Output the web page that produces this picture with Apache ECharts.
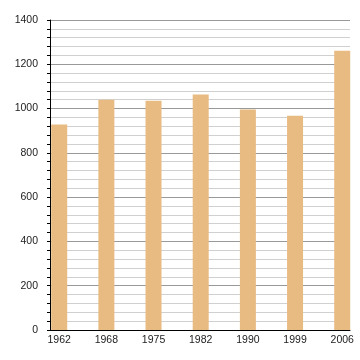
<!DOCTYPE html>
<html>
<head>
<meta charset="utf-8">
<script src="https://cdn.jsdelivr.net/npm/echarts@6/dist/echarts.min.js"></script>
<style>html,body{margin:0;padding:0;background:#fff}#c{width:360px;height:360px}</style>
</head>
<body>
<div id="c"></div>
<script>
var years = ['1962', '1968', '1975', '1982', '1990', '1999', '2006'];
var population = [928, 1040, 1035, 1064, 996, 968, 1261];
var yTicks = [0, 200, 400, 600, 800, 1000, 1200, 1400];

var chart = echarts.init(document.getElementById('c'), null, {renderer: 'canvas'});
var idx = years.map(function (_, i) { return i; });
chart.setOption({
  animation: false,
  grid: {left: 50, right: 10, top: 20, bottom: 30, containLabel: false},
  xAxis: {
    type: 'value',
    min: -0.195,
    max: 6.165,
    axisLine: {show: true, onZero: false, lineStyle: {color: '#000', width: 1}},
    axisTick: {show: false},
    splitLine: {show: false},
    axisLabel: {
      customValues: idx,
      formatter: function (v) { return years[Math.round(v)]; },
      color: '#222', fontSize: 10.5, fontFamily: 'Liberation Sans', margin: 5
    }
  },
  yAxis: {
    type: 'value',
    min: yTicks[0],
    max: yTicks[yTicks.length - 1],
    interval: 200,
    axisLine: {show: true, onZero: false, lineStyle: {color: '#000', width: 1}},
    axisTick: {show: true, length: 3, lineStyle: {color: '#000'}},
    minorTick: {show: true, splitNumber: 5, length: 3, lineStyle: {color: '#000'}},
    splitLine: {show: true, lineStyle: {color: '#999', width: 1}},
    minorSplitLine: {show: true, lineStyle: {color: '#d0d0d0', width: 1}},
    axisLabel: {color: '#222', fontSize: 10.5, fontFamily: 'Liberation Sans', margin: 12,
      formatter: function (v) { return String(v); }}
  },
  series: [{
    type: 'bar',
    barWidth: 16,
    itemStyle: {color: '#e8bb83'},
    data: population.map(function (v, i) { return [i, v]; })
  }]
});
</script>
</body>
</html>
